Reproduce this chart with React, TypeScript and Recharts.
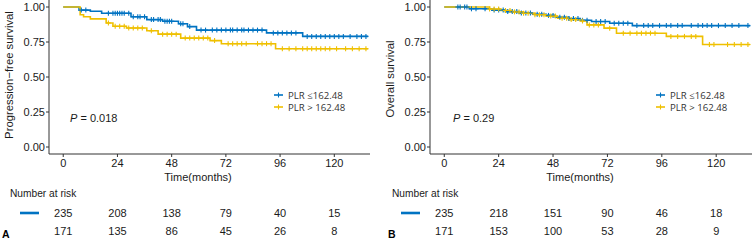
import React from 'react';
import { ComposedChart, Line, Scatter, XAxis, YAxis } from 'recharts';

const BLUE = '#0073C2';
const YELLOW = '#EFC000';
const AXIS = '#333333';
const INK = '#1a1a1a';

const monthTicks = [0, 24, 48, 72, 96, 120];
const survTicks = [0, 0.25, 0.5, 0.75, 1];
const groupNames = ['PLR \u2264162.48', 'PLR > 162.48'];
const X_DOMAIN: [number, number] = [-6.3, 135.8];

// A: progression-free survival
const pfsLowTimes = [0, 7, 12, 17, 30, 37, 44, 51, 55, 59, 90, 106, 135];
const pfsLowSurv = [1, 0.978, 0.97, 0.955, 0.93, 0.91, 0.898, 0.88, 0.86, 0.835, 0.815, 0.79, 0.79];
const pfsLowCensor = [8, 10, 20, 22, 23, 24, 25, 26, 27, 29, 31, 33, 34, 36, 39, 40, 42, 43, 45, 46, 47, 48, 52, 53, 56, 61, 63, 66, 68, 70, 72, 74, 75, 77, 79, 80, 82, 84, 86, 88, 93, 95, 97, 99, 101, 103, 108, 110, 112, 114, 116, 118, 120, 122, 124, 127, 130, 132, 134];

const pfsHighTimes = [0, 7.5, 9, 12, 19, 22, 28, 37, 42, 52, 65, 70, 94, 135];
const pfsHighSurv = [1, 0.945, 0.93, 0.915, 0.886, 0.862, 0.85, 0.83, 0.806, 0.778, 0.76, 0.738, 0.702, 0.702];
const pfsHighCensor = [20, 23, 25, 27, 29, 31, 33, 35, 39, 44, 46, 48, 50, 54, 56, 58, 60, 62, 64, 67, 73, 75, 77, 79, 81, 86, 88, 90, 92, 97, 100, 103, 106, 108, 110, 112, 114, 116, 118, 121, 125, 128, 131, 134];

const pfsLowRisk = [235, 208, 138, 79, 40, 15];
const pfsHighRisk = [171, 135, 86, 45, 26, 8];

// B: overall survival
const osLowTimes = [0, 11, 21, 27, 33, 39, 45, 49, 55, 60, 65, 73, 83, 135];
const osLowSurv = [1, 0.987, 0.978, 0.967, 0.957, 0.948, 0.94, 0.927, 0.917, 0.905, 0.896, 0.884, 0.867, 0.867];
const osLowCensor = [6, 7, 9, 10, 12, 14, 18, 22, 24, 26, 28, 30, 32, 34, 36, 38, 41, 43, 46, 48, 51, 53, 55, 57, 59, 61, 63, 67, 69, 71, 75, 77, 79, 81, 85, 88, 90, 92, 95, 98, 100, 103, 105, 109, 112, 114, 116, 118, 121, 124, 127, 130, 134];

const osHighTimes = [0, 20, 25, 30, 35, 40, 45, 50, 55, 60, 63, 70.5, 76, 98, 114, 135];
const osHighSurv = [1, 0.985, 0.975, 0.965, 0.955, 0.945, 0.935, 0.92, 0.91, 0.9, 0.872, 0.849, 0.813, 0.79, 0.732, 0.732];
const osHighCensor = [20, 22, 24, 27, 29, 31, 33, 35, 37, 40, 42, 44, 47, 49, 52, 54, 56, 58, 61, 64, 66, 68, 73, 79, 82, 85, 87, 89, 91, 93, 100, 103, 106, 109, 111, 117, 119, 125, 128, 131, 134];

const osLowRisk = [235, 218, 151, 90, 46, 18];
const osHighRisk = [171, 153, 100, 53, 28, 9];

const toSteps = (times: number[], surv: number[]) => times.map((t, i) => ({ t, s: surv[i] }));

const survAt = (times: number[], surv: number[], t: number) => {
  let v = surv[0];
  times.forEach((tt, i) => {
    if (tt <= t) v = surv[i];
  });
  return v;
};

const toCensor = (censor: number[], times: number[], surv: number[]) =>
  censor.map((t) => ({ t, s: survAt(times, surv, t) }));

const toRisk = (counts: number[], row: number) => counts.map((n, i) => ({ t: monthTicks[i], row, n }));

const Plus = (props: any) => {
  const { cx, cy, fill } = props;
  if (cx == null || cy == null) return null;
  return (
    <g stroke={fill} strokeWidth={1.1}>
      <line x1={cx - 2.5} x2={cx + 2.5} y1={cy} y2={cy} />
      <line x1={cx} x2={cx} y1={cy - 2.5} y2={cy + 2.5} />
    </g>
  );
};

const RiskNumber = (props: any) => {
  const { cx, cy, payload } = props;
  if (cx == null || cy == null) return null;
  return (
    <text x={cx} y={cy} textAnchor="middle" dominantBaseline="central" fontSize={11} fill={INK}>
      {payload.n}
    </text>
  );
};

type PanelProps = {
  left: number;
  letter: string;
  yTitle: string;
  pValue: string;
  axisW: number;
  rightM: number;
  lowTimes: number[];
  lowSurv: number[];
  lowCensor: number[];
  highTimes: number[];
  highSurv: number[];
  highCensor: number[];
  lowRisk: number[];
  highRisk: number[];
  // overlay text positions
  yTitleX: number;
  yTitleY: number;
  xTitleX: number;
  legendX: number;
  pX: number;
  riskLabelX: number;
  riskLineX: number;
  letterX: number;
};

const KmPanel = (p: PanelProps) => {
  const lowSteps = toSteps(p.lowTimes, p.lowSurv);
  const highSteps = toSteps(p.highTimes, p.highSurv);
  const riskData = [...toRisk(p.lowRisk, 2), ...toRisk(p.highRisk, 1)];

  return (
    <div style={{ position: 'absolute', left: p.left, top: 0, width: 376, height: 241 }}>
      <ComposedChart width={376} height={185} margin={{ top: 0, right: p.rightM, bottom: 0, left: 0 }}>
        <XAxis
          type="number"
          dataKey="t"
          domain={X_DOMAIN}
          ticks={monthTicks}
          interval={0}
          allowDataOverflow
          height={31}
          tickSize={3}
          tickMargin={2}
          stroke={AXIS}
          tick={{ fontSize: 11, fill: INK }}
        />
        <YAxis
          type="number"
          dataKey="s"
          domain={[-0.05, 1.05]}
          ticks={survTicks}
          interval={0}
          allowDataOverflow
          width={p.axisW}
          tickSize={3}
          tickMargin={1}
          stroke={AXIS}
          tick={{ fontSize: 11, fill: INK }}
          tickFormatter={(v: number) => v.toFixed(2)}
        />
        <Line data={lowSteps} dataKey="s" type="stepAfter" stroke={BLUE} strokeWidth={1.6} dot={false} isAnimationActive={false} />
        <Line data={highSteps} dataKey="s" type="stepAfter" stroke={YELLOW} strokeWidth={1.6} dot={false} isAnimationActive={false} />
        <Scatter data={toCensor(p.lowCensor, p.lowTimes, p.lowSurv)} dataKey="s" fill={BLUE} shape={<Plus />} isAnimationActive={false} />
        <Scatter data={toCensor(p.highCensor, p.highTimes, p.highSurv)} dataKey="s" fill={YELLOW} shape={<Plus />} isAnimationActive={false} />
      </ComposedChart>

      <ComposedChart width={376} height={56} margin={{ top: 19, right: p.rightM, bottom: 1, left: 0 }}>
        <XAxis type="number" dataKey="t" domain={X_DOMAIN} allowDataOverflow hide />
        <YAxis
          type="number"
          dataKey="row"
          domain={[0.5, 2.5]}
          ticks={[1, 2]}
          width={p.axisW}
          axisLine={false}
          tickLine={false}
          tick={(tp: any) => (
            <line
              x1={p.riskLineX}
              x2={p.riskLineX + 19}
              y1={tp.y}
              y2={tp.y}
              stroke={tp.payload.value === 2 ? BLUE : YELLOW}
              strokeWidth={2.6}
            />
          )}
        />
        <Scatter data={riskData} dataKey="row" shape={<RiskNumber />} isAnimationActive={false} />
      </ComposedChart>

      <svg width={376} height={241} style={{ position: 'absolute', left: 0, top: 0, pointerEvents: 'none' }}>
        <text
          x={p.yTitleX}
          y={p.yTitleY}
          transform={`rotate(-90 ${p.yTitleX} ${p.yTitleY})`}
          textAnchor="middle"
          dominantBaseline="central"
          fontSize={11.3}
          fill={INK}
        >
          {p.yTitle}
        </text>
        <text x={p.xTitleX} y={177} textAnchor="middle" dominantBaseline="central" fontSize={11} fill={INK}>
          Time(months)
        </text>
        {groupNames.map((name, i) => {
          const y = 95 + i * 12;
          const c = i === 0 ? BLUE : YELLOW;
          return (
            <g key={name}>
              <line x1={p.legendX} x2={p.legendX + 9} y1={y} y2={y} stroke={c} strokeWidth={1.6} />
              <line x1={p.legendX + 4.5} x2={p.legendX + 4.5} y1={y - 2.5} y2={y + 2.5} stroke={c} strokeWidth={1.1} />
              <text x={p.legendX + 14} y={y} dominantBaseline="central" fontSize={9.6} fill="#333" fontFamily="'Open Sans', sans-serif">
                {name}
              </text>
            </g>
          );
        })}
        <text x={p.pX} y={118} dominantBaseline="central" fontSize={11} fill={INK}>
          <tspan fontStyle="italic">P</tspan>
          {` = ${p.pValue}`}
        </text>
        <text x={p.riskLabelX} y={193} dominantBaseline="central" fontSize={10.2} fill={INK}>
          Number at risk
        </text>
        <text x={p.letterX} y={234} dominantBaseline="central" fontSize={10.5} fontWeight="bold" fill="#000">
          {p.letter}
        </text>
      </svg>
    </div>
  );
};

export default function App() {
  return (
    <div
      style={{
        position: 'absolute',
        left: 0,
        top: 0,
        width: 752,
        height: 241,
        background: '#fff',
        overflow: 'hidden',
        fontFamily: "'Liberation Sans', Arial, sans-serif",
      }}
    >
      <KmPanel
        left={0}
        letter="A"
        yTitle={'Progression\u2212free survival'}
        pValue="0.018"
        axisW={49}
        rightM={6}
        lowTimes={pfsLowTimes}
        lowSurv={pfsLowSurv}
        lowCensor={pfsLowCensor}
        highTimes={pfsHighTimes}
        highSurv={pfsHighSurv}
        highCensor={pfsHighCensor}
        lowRisk={pfsLowRisk}
        highRisk={pfsHighRisk}
        yTitleX={9}
        yTitleY={75}
        xTitleX={198}
        legendX={274}
        pX={70}
        riskLabelX={10}
        riskLineX={20}
        letterX={2}
      />
      <KmPanel
        left={376}
        letter="B"
        yTitle="Overall survival"
        pValue="0.29"
        axisW={54}
        rightM={0}
        lowTimes={osLowTimes}
        lowSurv={osLowSurv}
        lowCensor={osLowCensor}
        highTimes={osHighTimes}
        highSurv={osHighSurv}
        highCensor={osHighCensor}
        lowRisk={osLowRisk}
        highRisk={osHighRisk}
        yTitleX={14}
        yTitleY={79}
        xTitleX={204}
        legendX={280}
        pX={77}
        riskLabelX={16}
        riskLineX={25}
        letterX={12}
      />
    </div>
  );
}
